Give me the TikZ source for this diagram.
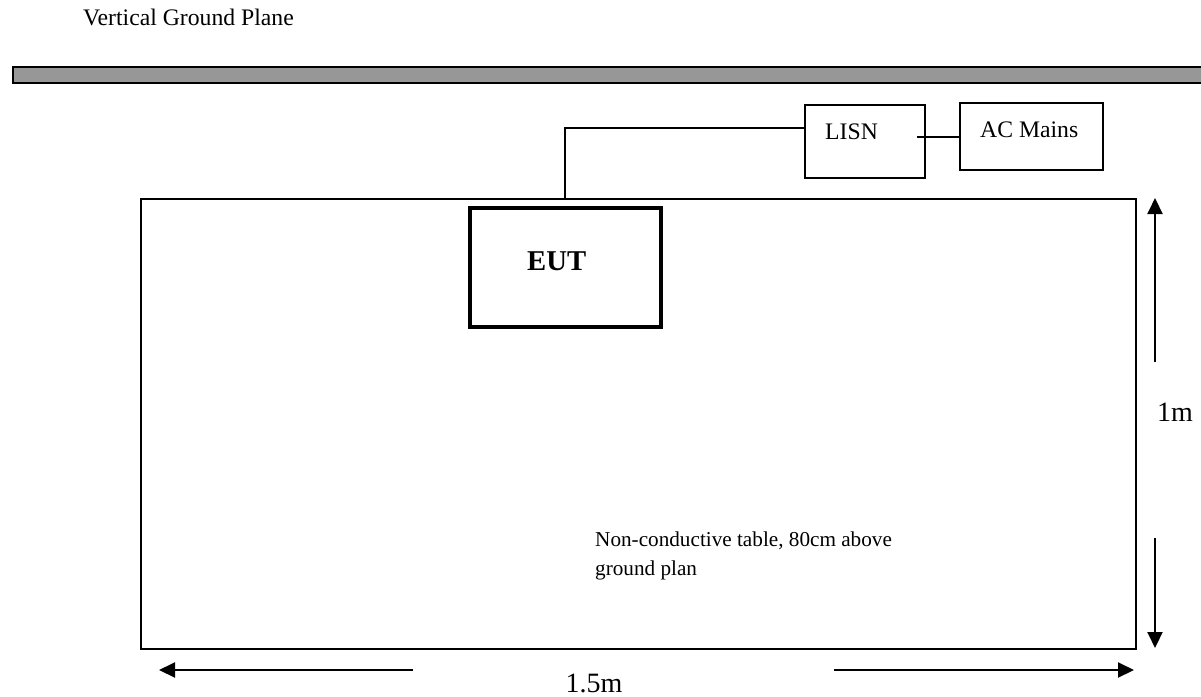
\documentclass[tikz,border=0pt]{standalone}
\usepackage{fontspec}
\setmainfont{Liberation Serif}
\usetikzlibrary{arrows.meta}
\definecolor{planegray}{HTML}{979797}
\tikzset{
  box/.style={draw, line width=1.5pt, inner sep=0pt},
  eutbox/.style={draw, line width=3.5pt, inner sep=0pt},
  wire/.style={line width=1.5pt},
  dim/.style={line width=2pt, -{Triangle[length=16pt,width=15pt]}},
  lbl/.style={inner sep=0pt, font=\fontsize{23.7}{28}\selectfont},
  big/.style={inner sep=0pt, font=\fontsize{28}{32}\selectfont},
  small/.style={inner sep=0pt, font=\fontsize{21.2}{28}\selectfont},
}
\begin{document}
\begin{tikzpicture}[x=1pt, y=-1pt]
\useasboundingbox (0,0) rectangle (1201,696);
\clip (0,0) rectangle (1201,696);
% ground plane
\node[lbl, anchor=base west] (gptext) at (83,25) {Vertical Ground Plane};
\node[draw, line width=1.8pt, fill=planegray, inner sep=0pt, minimum width=1210pt, minimum height=16pt, anchor=north west] (plane) at (12,66) {};
% table
\node[box, minimum width=995pt, minimum height=450pt, anchor=north west] (table) at (140,198) {};
% EUT
\node[eutbox, minimum width=191pt, minimum height=119pt, anchor=north west] (eut) at (468,206) {};
\node[big, anchor=base west, font=\fontsize{28.7}{32}\selectfont\bfseries] (euttext) at (527,270) {EUT};
% LISN and mains
\node[box, minimum width=120pt, minimum height=73pt, anchor=north west] (lisn) at (804,104) {};
\node[lbl, anchor=base west] (lisntext) at (825,139) {LISN};
\node[box, minimum width=143pt, minimum height=67pt, anchor=north west] (mains) at (959,102) {};
\node[lbl, anchor=base west] (mainstext) at (980,137) {AC Mains};
% wires
\coordinate (w0) at (565,198);
\coordinate (w1) at (565,128);
\draw[wire] (w0) -- (w1) -- (w1 -| lisn.west);
\coordinate (l0) at (917,137);
\draw[wire] (l0) -- (l0 -| mains.west);
% table label
\node[small, anchor=base west] (t1) at (595,546) {Non-conductive table, 80cm above};
\node[small, anchor=base west] (t2) at (595,575) {ground plan};
% dimensions
\coordinate (v1) at (1155,362);
\coordinate (v1t) at (1155,198);
\coordinate (v2) at (1155,538);
\coordinate (v2t) at (1155,648);
\draw[dim] (v1) -- (v1t);
\draw[dim] (v2) -- (v2t);
\node[big, anchor=base west] (onem) at (1157,421) {1m};
\coordinate (h1) at (413,670);
\coordinate (h1t) at (159,670);
\coordinate (h2) at (834,670);
\coordinate (h2t) at (1134,670);
\draw[dim] (h1) -- (h1t);
\draw[dim] (h2) -- (h2t);
\node[big, anchor=base] (onefive) at (594,692) {1.5m};
\end{tikzpicture}
\end{document}
